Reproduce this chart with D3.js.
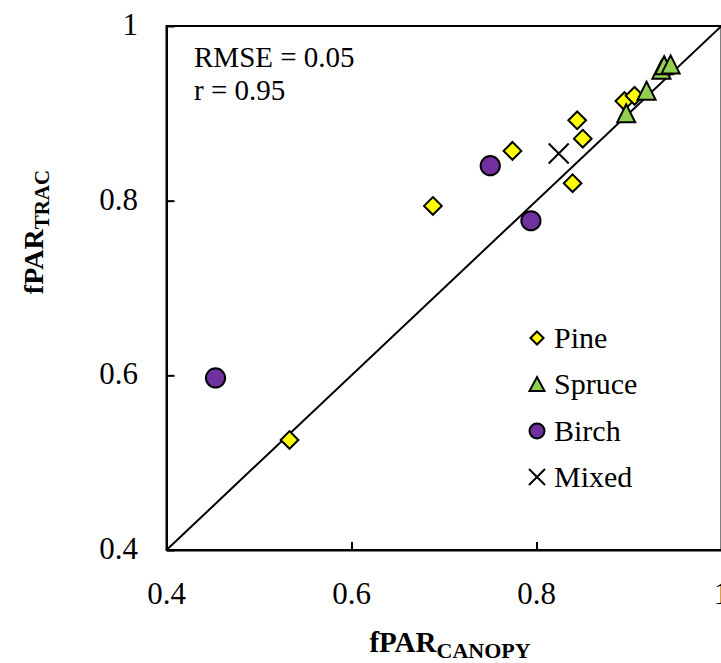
<!DOCTYPE html>
<html><head><meta charset="utf-8">
<script src="https://cdn.jsdelivr.net/npm/d3@7"></script>
<style>body{margin:0;background:#fff}svg{display:block}</style>
</head><body><svg id="c" width="721" height="663"></svg>
<script>
const tickValues = [0.4, 0.6, 0.8, 1];
const tickLabels = ["0.4", "0.6", "0.8", "1"];
const pine = [[0.533,0.526],[0.688,0.794],[0.774,0.857],[0.839,0.820],[0.844,0.892],[0.850,0.871],[0.895,0.914],[0.906,0.920]];
const spruce = [[0.897,0.900],[0.919,0.926],[0.935,0.950],[0.938,0.955],[0.945,0.956]];
const birch = [[0.453,0.597],[0.750,0.840],[0.794,0.777]];
const mixed = [[0.824,0.854]];
const seriesNames = ["Pine","Spruce","Birch","Mixed"];
const statsText = ["RMSE = 0.05","r = 0.95"];

const FONT = "Liberation Serif";
const svg = d3.select("#c");
const x = d3.scaleLinear().domain([0.4,1]).range([166.5,721.5]);
const y = d3.scaleLinear().domain([0.4,1]).range([550,26]);

// frame
svg.append("rect").attr("x",x(0.4)).attr("y",y(1)).attr("width",x(1)-x(0.4)).attr("height",y(0.4)-y(1))
  .attr("fill","none").attr("stroke","#000").attr("stroke-width",2);

// axes (inward ticks)
const gx = svg.append("g").attr("transform",`translate(0,${y(0.4)})`)
  .call(d3.axisBottom(x).tickValues(tickValues).tickSizeInner(-8).tickSizeOuter(0).tickFormat(""));
const gy = svg.append("g").attr("transform",`translate(${x(0.4)},0)`)
  .call(d3.axisLeft(y).tickValues(tickValues).tickSizeInner(-8).tickSizeOuter(0).tickFormat(""));
[gx,gy].forEach(g=>{g.select(".domain").attr("stroke","#000").attr("stroke-width",2);g.selectAll(".tick line").attr("stroke","#000").attr("stroke-width",2);});

function txt(sel){return sel.attr("font-family",FONT).attr("fill","#000");}

// tick labels
svg.append("g").selectAll("text").data(tickValues).join("text").call(txt)
  .attr("x",d=>x(d)).attr("y",604).attr("text-anchor","middle").attr("font-size",31)
  .text((d,i)=>tickLabels[i]);
svg.append("g").selectAll("text").data(tickValues).join("text").call(txt)
  .attr("x",138).attr("y",d=>y(d)+9).attr("text-anchor","end").attr("font-size",31)
  .text((d,i)=>tickLabels[i]);

// 1:1 line
svg.append("line").attr("x1",x(0.4)).attr("y1",y(0.4)).attr("x2",x(1)).attr("y2",y(1))
  .attr("stroke","#000").attr("stroke-width",2);

// markers
const sym = (type,size)=>d3.symbol().type(type).size(size)();
function drawSeries(data,type,size,fill){
  svg.append("g").selectAll("path").data(data).join("path")
    .attr("transform",d=>`translate(${x(d[0])},${y(d[1])})`)
    .attr("d",sym(type,size)).attr("fill",fill).attr("stroke","#000").attr("stroke-width",2).attr("stroke-linejoin","miter");
}
drawSeries(pine,d3.symbolDiamond2,200,"#FFFF00");
drawSeries(birch,d3.symbolCircle,290,"#7030A0");
const tri = (w,h)=>`M0,${-h/2}L${w/2},${h/2}L${-w/2},${h/2}Z`;
svg.append("g").selectAll("path").data(spruce).join("path")
  .attr("transform",d=>`translate(${x(d[0])},${y(d[1])})`)
  .attr("d",tri(18,18)).attr("fill","#92D050").attr("stroke","#000").attr("stroke-width",2);
const cross = s=>`M${-s},${-s}L${s},${s}M${-s},${s}L${s},${-s}`;
svg.append("g").selectAll("path").data(mixed).join("path")
  .attr("transform",d=>`translate(${x(d[0])},${y(d[1])})`)
  .attr("d",cross(10)).attr("fill","none").attr("stroke","#000").attr("stroke-width",2);

// stats text
svg.append("g").selectAll("text").data(statsText).join("text").call(txt)
  .attr("x",194).attr("y",(d,i)=>67+i*33).attr("font-size",29).text(d=>d);

// legend
const lg = svg.append("g");
const rowsY = [338,384,431,477];
seriesNames.forEach((n,i)=>{
  const g = lg.append("g").attr("transform",`translate(537,${rowsY[i]})`);
  if(i===0) g.append("path").attr("d",sym(d3.symbolDiamond2,110)).attr("fill","#FFFF00").attr("stroke","#000").attr("stroke-width",2);
  if(i===1) g.append("path").attr("d",tri(15,14)).attr("fill","#92D050").attr("stroke","#000").attr("stroke-width",2);
  if(i===2) g.append("circle").attr("r",7.5).attr("fill","#7030A0").attr("stroke","#000").attr("stroke-width",2);
  if(i===3) g.append("path").attr("d",cross(8)).attr("stroke","#000").attr("stroke-width",2);
  g.append("text").call(txt).attr("x",17).attr("y",10).attr("font-size",30).text(n);
});

// axis titles
const xt = svg.append("text").call(txt).attr("x",450).attr("y",652).attr("text-anchor","middle").attr("font-size",29).attr("font-weight","bold");
xt.append("tspan").text("fPAR");
xt.append("tspan").attr("dy",6).attr("font-size",22).text("CANOPY");
const yt = svg.append("text").call(txt).attr("transform","translate(43,232) rotate(-90)").attr("text-anchor","middle").attr("font-size",28).attr("font-weight","bold");
yt.append("tspan").text("fPAR");
yt.append("tspan").attr("dy",6).attr("font-size",21).text("TRAC");
</script></body></html>
